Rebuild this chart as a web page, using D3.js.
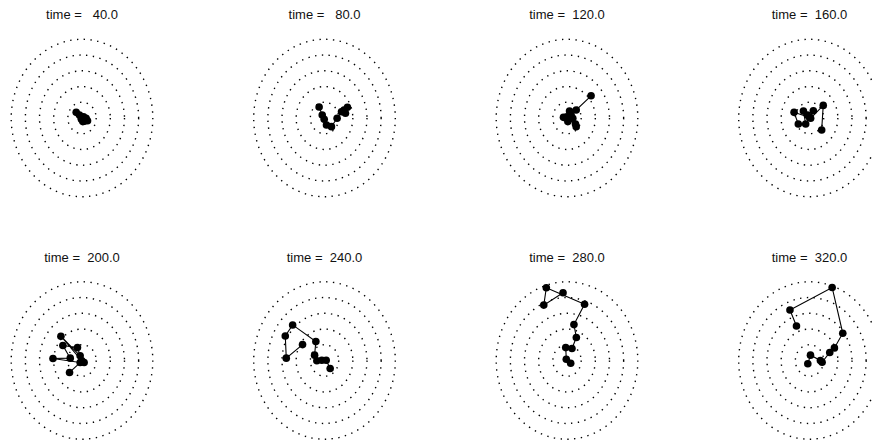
<!DOCTYPE html>
<html>
<head>
<meta charset="utf-8">
<script src="https://cdn.jsdelivr.net/npm/d3@7"></script>
<style>
  html, body { margin: 0; padding: 0; background: #fff; }
  svg { display: block; }
  text { font-family: "Liberation Sans", Arial, Helvetica, sans-serif; }
</style>
</head>
<body>
<svg id="chart" width="872" height="443"></svg>
<script>
// ---- data ----
const times = [40, 80, 120, 160, 200, 240, 280, 320];
const ringRadii = [1, 2, 3, 4, 5];

// x and y positions (ring units) of the points in each panel, in drawing order
const pointX = [
  [-0.41, -0.18, -0.04, 0.11, 0.29, 0.39, 0.20, 0.15, 0.06, -0.04],
  [-0.38, -0.16, -0.02, 0.14, 0.49, 0.89, 1.20, 1.48, 1.62, 1.38],
  [1.70, 0.65, 0.18, 0.41, -0.25, 0.06, 0.29, 0.60, 0.65, -0.01],
  [-0.79, -1.09, -0.01, -0.15, -0.43, -0.27, 0.27, 0.08, 0.97, 0.86],
  [-0.88, -0.13, -2.05, -0.83, -1.35, -0.32, -0.13, -1.49, -0.01, 0.15],
  [-1.55, -2.70, -2.77, -2.25, -0.61, -0.70, -0.54, -0.19, 0.12, 0.40],
  [-0.28, -1.64, -1.46, 1.24, 0.49, 0.66, 0.35, -0.09, -0.05, 0.26],
  [-0.12, 0.07, 0.77, 0.89, 1.43, 1.76, 2.35, 1.60, -1.38, -0.92]
];
const pointY = [
  [0.36, 0.19, -0.02, 0.08, -0.02, -0.17, -0.10, -0.20, -0.23, -0.08],
  [0.70, 0.19, -0.08, -0.44, -0.55, -0.02, 0.40, 0.30, 0.68, 0.51],
  [1.41, 0.51, 0.44, -0.02, 0.04, -0.23, 0.19, -0.38, -0.55, 0.08],
  [-0.38, 0.36, 0.04, 0.19, 0.44, -0.38, 0.46, -0.02, 0.80, -0.76],
  [-0.76, -0.13, 0.13, 0.15, 0.95, 0.82, 0.30, 1.54, -0.02, -0.13],
  [1.01, 0.15, 1.56, 2.26, 1.20, 0.34, -0.02, 0.02, 0.02, -0.51],
  [4.30, 3.52, 4.62, 3.57, 2.28, 1.46, 0.76, 0.82, 0.08, -0.17],
  [-0.21, 0.34, 0.00, -0.11, 0.51, 0.80, 1.73, 4.64, 3.21, 2.19]
];

// ---- layout ----
const nCols = 4;
const col0 = 82, row0 = 118, step = 242.5;
const halfW = 70.8, halfH = 78.7;
const fmt = d3.format("6.1f");

const svg = d3.select("#chart");

times.forEach((t, i) => {
  const cx = col0 + step * (i % nCols);
  const cy = row0 + step * Math.floor(i / nCols);
  const x = d3.scaleLinear().domain([-5, 5]).range([cx - halfW, cx + halfW]);
  const y = d3.scaleLinear().domain([-5, 5]).range([cy + halfH, cy - halfH]);

  const g = svg.append("g");

  g.append("text")
    .attr("x", cx)
    .attr("y", cy - 99)
    .attr("text-anchor", "middle")
    .style("white-space", "pre")
    .attr("font-size", 13)
    .attr("fill", "#111")
    .text("time = " + fmt(t));

  g.selectAll("ellipse.ring")
    .data(ringRadii)
    .join("ellipse")
    .attr("class", "ring")
    .attr("cx", x(0))
    .attr("cy", y(0))
    .attr("rx", r => x(r) - x(0))
    .attr("ry", r => y(0) - y(r))
    .attr("fill", "none")
    .attr("stroke", "#000")
    .attr("stroke-width", 1.4)
    .attr("stroke-dasharray", "1.4,5.4");

  const pts = pointX[i].map((v, k) => [v, pointY[i][k]]);

  g.append("path")
    .datum(pts)
    .attr("d", d3.line().x(d => x(d[0])).y(d => y(d[1])))
    .attr("fill", "none")
    .attr("stroke", "#000")
    .attr("stroke-width", 1.1);

  g.selectAll("circle.pt")
    .data(pts)
    .join("circle")
    .attr("class", "pt")
    .attr("cx", d => x(d[0]))
    .attr("cy", d => y(d[1]))
    .attr("r", 3.8)
    .attr("fill", "#000");
});
</script>
</body>
</html>
